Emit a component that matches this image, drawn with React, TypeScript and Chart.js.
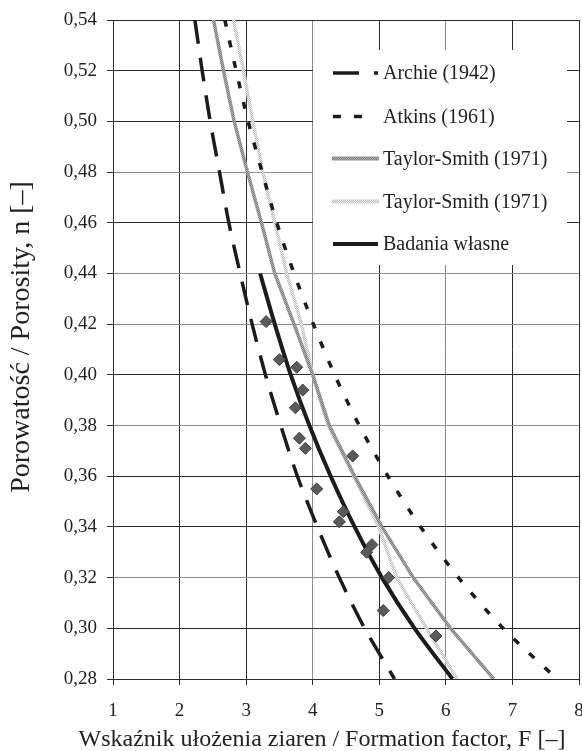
import { useEffect, useRef } from 'react';
import { Chart, registerables } from 'chart.js';

Chart.register(...registerables);

// Porosity levels (n) at which the published curves were read
const porosity = [0.54, 0.52, 0.5, 0.48, 0.46, 0.44, 0.42, 0.4, 0.38, 0.36, 0.34, 0.32, 0.3, 0.28];
// Formation factor F for each curve at those porosities
const archieF = [2.23, 2.34, 2.46, 2.6, 2.74, 2.91, 3.09, 3.29, 3.52, 3.77, 4.07, 4.4, 4.78, 5.23];
const atkinsF = [2.68, 2.85, 3.03, 3.24, 3.46, 3.72, 4.01, 4.33, 4.7, 5.13, 5.62, 6.19, 6.86, 7.67];
const taylor1F = [2.51, 2.66, 2.82, 3.02, 3.23, 3.43, 3.72, 4.0, 4.25, 4.63, 5.04, 5.51, 6.07, 6.72];
const taylor2F = [2.81, 2.96, 3.1, 3.25, 3.43, 3.61, 3.83, 4.0, 4.23, 4.62, 4.99, 5.26, 5.71, 6.17];
// Own research fitted curve
const ownPorosity = [0.44, 0.42, 0.4, 0.38, 0.36, 0.34, 0.32, 0.3, 0.28];
const ownF = [3.21, 3.43, 3.67, 3.95, 4.27, 4.63, 5.04, 5.53, 6.1];
// Own measurements (diamonds)
const measuredF = [3.3, 3.5, 3.76, 3.85, 3.74, 3.8, 3.89, 4.6, 4.06, 4.46, 4.4, 4.89, 4.81, 5.14, 5.06, 5.85];
const measuredN = [0.421, 0.406, 0.403, 0.394, 0.387, 0.375, 0.371, 0.368, 0.355, 0.346, 0.342, 0.333, 0.33, 0.32, 0.307, 0.297];

const legendLabels = ['Archie (1942)', 'Atkins (1961)', 'Taylor-Smith (1971)', 'Taylor-Smith (1971)', 'Badania własne'];
const xTitle = 'Wskaźnik ułożenia ziaren / Formation factor, F [–]';
const yTitle = 'Porowatość / Porosity, n [–]';

const FONT = "'Liberation Serif', 'Times New Roman', serif";

function pts(xs: number[], ys: number[]) {
  return xs.map((x, i) => ({ x, y: ys[i] }));
}

function makePattern(a: string, b: string): CanvasPattern | string {
  const c = document.createElement('canvas');
  c.width = 2;
  c.height = 2;
  const g = c.getContext('2d');
  if (!g) return a;
  g.fillStyle = a;
  g.fillRect(0, 0, 2, 2);
  g.fillStyle = b;
  g.fillRect(0, 0, 1, 1);
  g.fillRect(1, 1, 1, 1);
  const p = g.createPattern(c, 'repeat');
  return p || a;
}

export default function App() {
  const ref = useRef<HTMLCanvasElement | null>(null);

  useEffect(() => {
    const canvas = ref.current;
    if (!canvas) return;
    const pat1 = makePattern('#7a7a7a', '#b0b0b0');
    const pat2 = makePattern('#b8b8b8', '#f2f2f2');
    const dark = '#1c1c1c';

    const styles = [
      { color: dark, width: 3.5, dash: [26, 15], x0: 333, x1: 378 },
      { color: dark, width: 3.5, dash: [8, 13], x0: 333, x1: 366 },
      { color: pat1, width: 4, dash: [] as number[], x0: 332, x1: 379 },
      { color: pat2, width: 4, dash: [] as number[], x0: 332, x1: 379 },
      { color: dark, width: 4, dash: [] as number[], x0: 333, x1: 378 },
    ];

    const legendPlugin = {
      id: 'insideLegend',
      beforeDatasetsDraw(chart: any) {
        const ctx = chart.ctx as CanvasRenderingContext2D;
        ctx.save();
        ctx.fillStyle = '#ffffff';
        ctx.fillRect(313, 50, 254, 215);
        const rowsY = [73, 116.5, 158.5, 201.5, 244];
        legendLabels.forEach((label, i) => {
          const s = styles[i];
          ctx.beginPath();
          ctx.setLineDash(s.dash);
          ctx.lineWidth = s.width;
          ctx.strokeStyle = s.color as any;
          ctx.moveTo(s.x0, rowsY[i]);
          ctx.lineTo(s.x1, rowsY[i]);
          ctx.stroke();
          ctx.setLineDash([]);
          ctx.fillStyle = '#222';
          ctx.font = `20px ${FONT}`;
          ctx.textAlign = 'left';
          ctx.textBaseline = 'middle';
          ctx.fillText(label, 383, rowsY[i] + 1);
        });
        ctx.restore();
      },
    };

    const titlePlugin = {
      id: 'axisTitles',
      afterDraw(chart: any) {
        const ctx = chart.ctx as CanvasRenderingContext2D;
        ctx.save();
        ctx.fillStyle = '#222';
        ctx.font = `24px ${FONT}`;
        ctx.textAlign = 'center';
        ctx.textBaseline = 'middle';
        ctx.fillText(xTitle, 322, 740);
        ctx.font = `28px ${FONT}`;
        ctx.translate(22, 337);
        ctx.rotate(-Math.PI / 2);
        ctx.fillText(yTitle, 0, 0);
        ctx.restore();
      },
    };

    const grayX = [4, 6];
    const grayY = [48, 44, 42, 38, 32];

    const chart = new Chart(canvas, {
      type: 'scatter',
      data: {
        datasets: [
          {
            label: 'Pomiary',
            data: pts(measuredF, measuredN),
            showLine: false,
            pointStyle: 'rectRot',
            pointRadius: 6,
            backgroundColor: '#5a5a5a',
            borderColor: '#3a3a3a',
            borderWidth: 1,
            order: 0,
          },
          {
            label: legendLabels[4],
            data: pts(ownF, ownPorosity),
            showLine: true,
            borderColor: dark,
            borderWidth: 4,
            pointRadius: 0,
            tension: 0.3,
            order: 1,
          },
          {
            label: legendLabels[0],
            data: pts(archieF, porosity),
            showLine: true,
            borderColor: dark,
            borderWidth: 3.5,
            borderDash: [24, 14],
            pointRadius: 0,
            tension: 0.3,
            order: 2,
          },
          {
            label: legendLabels[1],
            data: pts(atkinsF, porosity),
            showLine: true,
            borderColor: dark,
            borderWidth: 3.5,
            borderDash: [7, 14],
            pointRadius: 0,
            tension: 0.3,
            order: 3,
          },
          {
            label: legendLabels[2],
            data: pts(taylor1F, porosity),
            showLine: true,
            borderColor: pat1 as any,
            borderWidth: 3.5,
            pointRadius: 0,
            tension: 0,
            order: 4,
          },
          {
            label: legendLabels[3],
            data: pts(taylor2F, porosity),
            showLine: true,
            borderColor: pat2 as any,
            borderWidth: 3.5,
            pointRadius: 0,
            tension: 0,
            order: 5,
          },
        ],
      },
      options: {
        responsive: false,
        animation: false,
        devicePixelRatio: 1,
        layout: { autoPadding: false, padding: { left: 0, right: 3, top: 20, bottom: 0 } },
        plugins: {
          legend: { display: false },
          tooltip: { enabled: false },
        },
        scales: {
          x: {
            type: 'linear',
            min: 1,
            max: 8,
            ticks: {
              stepSize: 1,
              color: '#222',
              font: { family: FONT, size: 19 },
              padding: 15,
              maxRotation: 0,
            },
            grid: {
              color: (c: any) => (grayX.includes(Math.round(c.tick?.value ?? 0)) ? '#8c8c8c' : '#2b2b2b'),
              lineWidth: 1,
              tickLength: 6,
              tickColor: '#2b2b2b',
            },
            border: { color: '#2b2b2b', width: 1 },
            afterFit: (s: any) => {
              s.height = 72;
              s.paddingLeft = 0;
              s.paddingRight = 0;
            },
          },
          y: {
            type: 'linear',
            min: 0.28,
            max: 0.54,
            ticks: {
              stepSize: 0.02,
              color: '#222',
              font: { family: FONT, size: 19 },
              padding: 10,
              callback: (v: any) => Number(v).toFixed(2).replace('.', ','),
            },
            grid: {
              color: (c: any) => (grayY.includes(Math.round((c.tick?.value ?? 0) * 100)) ? '#8c8c8c' : '#2b2b2b'),
              lineWidth: 1,
              tickLength: 6,
              tickColor: '#2b2b2b',
            },
            border: { color: '#2b2b2b', width: 1 },
            afterFit: (s: any) => {
              s.width = 113;
              s.paddingTop = 0;
              s.paddingBottom = 0;
            },
          },
        },
      },
      plugins: [legendPlugin, titlePlugin],
    } as any);

    return () => {
      chart.destroy();
    };
  }, []);

  return (
    <div style={{ position: 'absolute', left: 0, top: 0, width: 582, height: 751, background: '#fff' }}>
      <canvas ref={ref} width={582} height={751} style={{ width: 582, height: 751, display: 'block' }} />
    </div>
  );
}
